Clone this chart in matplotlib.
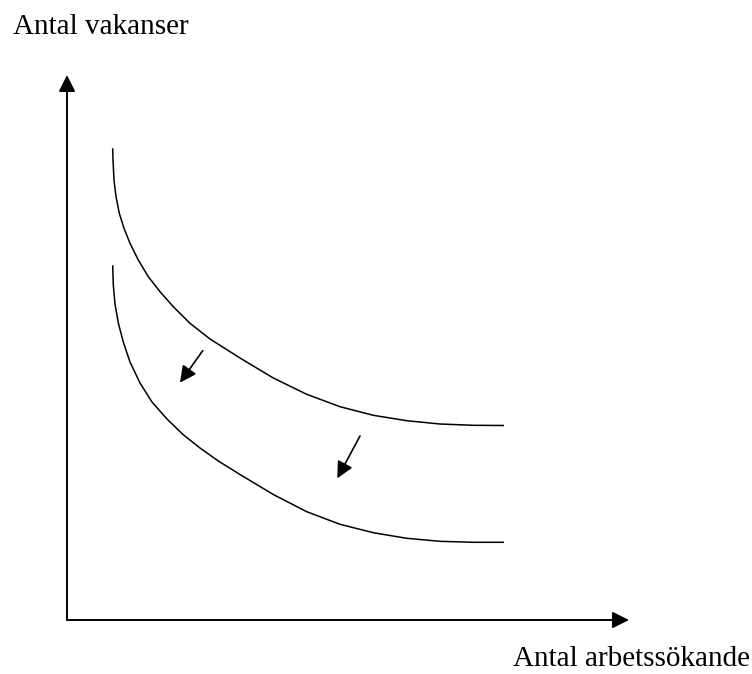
import matplotlib
matplotlib.use('Agg')
import matplotlib.pyplot as plt

plt.rcParams['font.family'] = ['Liberation Serif', 'DejaVu Serif']

# kurvor (x, y) avlästa i bildens koordinater
upper_x = [112.7, 113.0, 114.0, 116.0, 119.3, 124.0, 130.0, 138.3, 148.3, 160.0, 173.3, 190.0,
           210.0, 240.0, 273.3, 306.7, 340.0, 373.3, 406.7, 440.0, 473.3, 503.3]
upper_y = [149.0, 160.0, 180.0, 196.7, 213.3, 228.3, 243.3, 260.0, 276.7, 291.7, 306.7, 323.3,
           339.0, 358.0, 378.0, 394.3, 406.7, 415.3, 420.7, 424.0, 425.3, 425.5]
lower_x = [112.7, 113.3, 115.0, 118.3, 123.3, 130.0, 140.0, 152.0, 167.0, 183.0, 200.0, 218.3,
           240.0, 273.3, 306.7, 340.0, 373.3, 406.7, 440.0, 473.3, 503.3]
lower_y = [266.0, 285.0, 304.0, 323.0, 342.0, 362.0, 383.0, 402.0, 419.0, 434.5, 448.0, 461.0,
           474.5, 494.5, 511.7, 524.3, 532.7, 538.3, 541.3, 542.3, 542.3]

# skiftpilar: (start, slut)
shift_arrows = [((202.7, 350.7), (180.0, 382.7)),
                ((360.0, 436.0), (337.3, 478.3))]

# axlar
origin = (67, 620)
y_tip = 75
x_tip = 629

y_label = "Antal vakanser"
x_label = "Antal arbetssökande"

fig = plt.figure(figsize=(7.52, 6.74), dpi=100)
ax = fig.add_axes([0, 0, 1, 1])
ax.set_xlim(0, 752)
ax.set_ylim(674, 0)
ax.axis('off')

head = dict(arrowstyle='-|>,head_length=10,head_width=5', mutation_scale=1,
            color='black', shrinkA=0, shrinkB=0)

ax.annotate('', xy=(origin[0], y_tip), xytext=origin, arrowprops=dict(head, lw=1.4))
ax.annotate('', xy=(x_tip, origin[1]), xytext=origin, arrowprops=dict(head, lw=1.4))

ax.plot(upper_x, upper_y, color='black', lw=1.1, solid_joinstyle='round')
ax.plot(lower_x, lower_y, color='black', lw=1.1, solid_joinstyle='round')

for start, end in shift_arrows:
    ax.annotate('', xy=end, xytext=start, arrowprops=dict(head, lw=1.2))

ax.text(13, 34, y_label, fontsize=21, va='baseline', ha='left')
ax.text(750, 666, x_label, fontsize=21, va='baseline', ha='right')

fig.savefig('out.png', dpi=100)
